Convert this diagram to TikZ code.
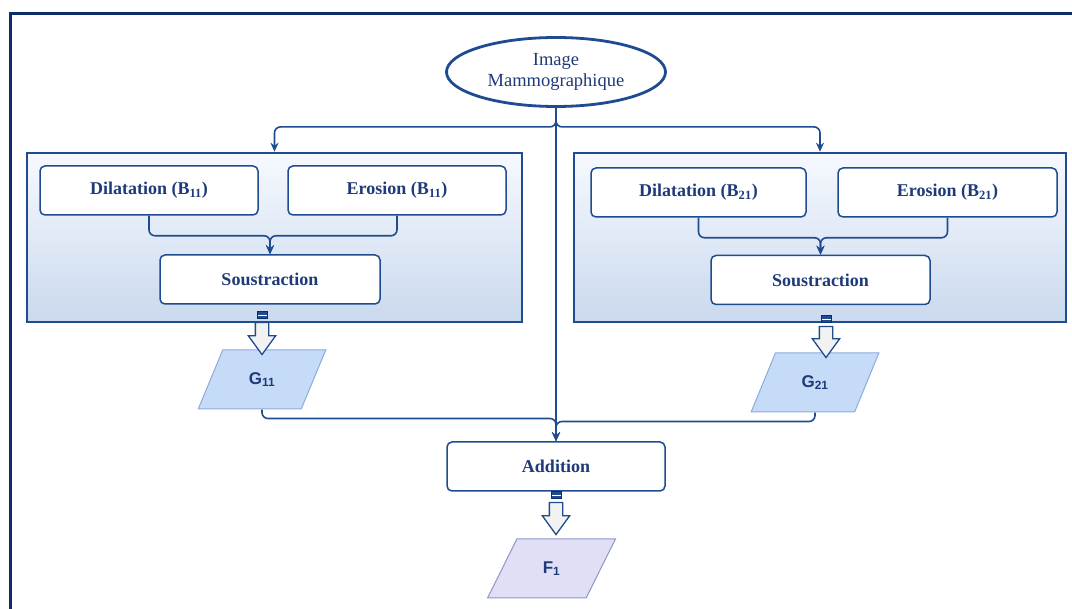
\documentclass[tikz,border=0pt]{standalone}
\usepackage{fontspec}
\setmainfont{Liberation Serif}
\setsansfont{Liberation Sans}
\usetikzlibrary{arrows.meta,positioning,shapes.geometric,shapes.arrows}
\definecolor{framenavy}{RGB}{14,44,106}
\definecolor{lineblue}{RGB}{31,76,144}
\definecolor{textnavy}{RGB}{30,58,120}
\definecolor{grptop}{RGB}{246,249,254}
\definecolor{grpbot}{RGB}{202,217,238}
\definecolor{gfill}{RGB}{198,219,247}
\definecolor{gline}{RGB}{140,172,220}
\definecolor{ffill}{RGB}{225,223,245}
\definecolor{fline}{RGB}{140,150,205}

\begin{document}
\begin{tikzpicture}[x=1pt, y=-1pt,
    conn/.style={draw=lineblue, line width=1.6pt, rounded corners=6pt, -{Stealth[length=9pt, width=8pt]}},
    group/.style={draw=lineblue, line width=2.5pt, top color=grptop, bottom color=grpbot, minimum height=169pt},
    op/.style={draw=lineblue, line width=1.5pt, fill=white, rounded corners=5pt, minimum height=49pt,
        minimum width=218pt, text=textnavy, font=\bfseries\fontsize{18}{20}\selectfont},
    data/.style={trapezium, trapezium left angle=64, trapezium right angle=116, trapezium stretches=true,
        minimum width=128pt, minimum height=59pt, line width=1pt, text=textnavy,
        font=\sffamily\bfseries\fontsize{17}{19}\selectfont},
    outarrow/.style={single arrow, draw=lineblue, fill=gray!10, line width=1.3pt, inner sep=6pt,
        single arrow head extend=7pt, single arrow tip angle=72, shape border rotate=270},
    tab/.style={draw=framenavy, fill=lineblue, line width=0.8pt, minimum width=10pt, minimum height=7pt, inner sep=0pt,
        path picture={\draw[white, line width=0.8pt] (path picture bounding box.west) -- (path picture bounding box.east);}}
]
\useasboundingbox (0,0) rectangle (1072,609);
\clip (0,0) rectangle (1072,609);
\draw[framenavy, line width=3pt] (10,14) rectangle (1100,640);

% input image
\node[ellipse, draw=lineblue, line width=2.8pt, fill=white, minimum width=219pt, minimum height=69pt,
    align=center, text=textnavy, font=\fontsize{18.5}{21}\selectfont] (img) at (556,72) {Image\\Mammographique};

% the two groups
\node[group, minimum width=495pt] (grpA) at (274.5,237.5) {};
\node[group, minimum width=492pt] (grpB) at (820,237.5) {};

\node[op] (dilA) at (149,190.5) {Dilatation (B\textsubscript{11})};
\node[op] (eroA) at (397,190.5) {Erosion (B\textsubscript{11})};
\node[op, minimum width=220pt] (souA) at (270,279.5) {Soustraction};

\node[op, minimum width=215pt] (dilB) at (698.5,192.5) {Dilatation (B\textsubscript{21})};
\node[op, minimum width=219pt] (eroB) at (947.5,192.5) {Erosion (B\textsubscript{21})};
\node[op, minimum width=219pt] (souB) at (820.5,280) {Soustraction};

\node[op] (addn) at (556,466.5) {Addition};

% results
\node[data, draw=gline, fill=gfill] (g11) at (262,379.5) {G\textsubscript{11}};
\node[data, draw=gline, fill=gfill] (g21) at (815,382.5) {G\textsubscript{21}};
\node[data, draw=fline, fill=ffill] (f1) at (551.5,568.5) {F\textsubscript{1}};

\node[outarrow, minimum height=32pt] (arrA) at (262,334) {};
\node[tab] (tabA) at (262,315) {};
\node[outarrow, minimum height=31pt] (arrB) at (826,337.5) {};
\node[tab] (tabB) at (826,319) {};
\node[outarrow, minimum height=32pt] (arrC) at (556,514) {};
\node[tab] (tabC) at (556,495) {};

% connectors
\draw[conn] (img.south) -- (addn.north);
\draw[conn] (img.south) -- ++(0,19) -| (grpA.north);
\draw[conn] (img.south) -- ++(0,19) -| (grpB.north);
\draw[conn] (dilA.south) -- ++(0,20) -| (souA.north);
\draw[conn] (eroA.south) -- ++(0,20) -| (souA.north);
\draw[conn] (dilB.south) -- ++(0,20) -| (souB.north);
\draw[conn] (eroB.south) -- ++(0,20) -| (souB.north);
\draw[conn] (g11.center |- g11.south) -- ++(0,9) -| (addn.north);
\draw[conn] (g21.center |- g21.south) -- ++(0,9) -| (addn.north);
\end{tikzpicture}
\end{document}
